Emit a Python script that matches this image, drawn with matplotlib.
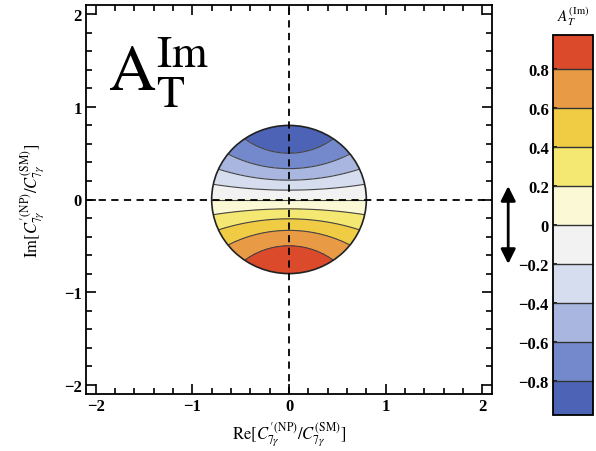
import numpy as np
import matplotlib
matplotlib.use("Agg")
import matplotlib.pyplot as plt
from matplotlib.patches import Circle
from matplotlib.colors import ListedColormap, BoundaryNorm
from matplotlib.ticker import MultipleLocator

plt.rcParams['font.family'] = ['Liberation Serif', 'DejaVu Serif']
plt.rcParams['mathtext.fontset'] = 'stix'
plt.rcParams['contour.negative_linestyle'] = 'solid'

# ---- data ----
levels = [-1.0, -0.8, -0.6, -0.4, -0.2, 0.0, 0.2, 0.4, 0.6, 0.8, 1.0]
band_colors = ['#4d64b6', '#7489cc', '#a8b6e0', '#d5ddef', '#f1f2f1',
               '#fbf8d5', '#f4e872', '#f0cc45', '#e89a45', '#dc4a2c']
cbar_ticks = [-0.8, -0.6, -0.4, -0.2, 0.0, 0.2, 0.4, 0.6, 0.8]
cbar_ticklabels = ['\u22120.8', '\u22120.6', '\u22120.4', '\u22120.2', '0',
                   '0.2', '0.4', '0.6', '0.8']
disk_radius = 0.8
cbar_range = (-0.976, 0.976)
arrow_range = (-0.2, 0.2)

# A_T^Im as function of Re and Im of the ratio
g = np.linspace(-0.85, 0.85, 401)
X, Y = np.meshgrid(g, g)
Z = -2 * Y / (1 + X**2 + Y**2)

fig = plt.figure(figsize=(5.96, 4.52), dpi=100)
ax = fig.add_axes([86/596, 57/452, 406/596, 389/452])

cs = ax.contourf(X, Y, Z, levels=levels, colors=band_colors)
cl = ax.contour(X, Y, Z, levels=levels[1:-1], colors='#444444', linewidths=0.8,
                linestyles='solid')
clip = Circle((0, 0), disk_radius, transform=ax.transData, facecolor='none')
cs.set_clip_path(clip)
cl.set_clip_path(clip)
ax.add_patch(Circle((0, 0), disk_radius, facecolor='none', edgecolor='#222222', lw=1.2, zorder=3))

ax.axhline(0, color='black', lw=1.3, ls=(0, (4, 3)), zorder=4)
ax.axvline(0, color='black', lw=1.3, ls=(0, (4, 3)), zorder=4)

ax.set_xlim(-2.1, 2.1)
ax.set_ylim(-2.1, 2.1)
ax.set_xticks([-2, -1, 0, 1, 2])
ax.set_yticks([-2, -1, 0, 1, 2])
ax.set_xticklabels(['\u22122', '\u22121', '0', '1', '2'])
ax.set_yticklabels(['\u22122', '\u22121', '0', '1', '2'])
ax.xaxis.set_minor_locator(MultipleLocator(0.2))
ax.yaxis.set_minor_locator(MultipleLocator(0.2))
ax.tick_params(which='both', direction='in', top=True, right=True, width=1.2,
               labelsize=12, pad=3)
ax.tick_params(which='major', length=7)
ax.tick_params(which='minor', length=4)
for lab in ax.get_xticklabels() + ax.get_yticklabels():
    lab.set_fontweight('bold')
for s in ax.spines.values():
    s.set_linewidth(1.3)

ax.set_xlabel(r'$\mathrm{Re}[C_{7\gamma}^{\prime\,(\mathrm{NP})}/C_{7\gamma}^{(\mathrm{SM})}]$',
              fontsize=12, labelpad=4)
ax.set_ylabel(r'$\mathrm{Im}[C_{7\gamma}^{\prime\,(\mathrm{NP})}/C_{7\gamma}^{(\mathrm{SM})}]$',
              fontsize=12, labelpad=12)

ax.text(-1.87, 1.19, r'$\mathrm{A}_{\mathrm{T}}^{\mathrm{Im}}$', fontsize=47, va='baseline', ha='left')

# ---- colorbar ----
cax = fig.add_axes([553/596, 36/452, 40/596, 380/452])
bounds = [cbar_range[0]] + levels[1:-1] + [cbar_range[1]]
cmap = ListedColormap(band_colors)
norm = BoundaryNorm(bounds, cmap.N)
sm = matplotlib.cm.ScalarMappable(norm=norm, cmap=cmap)
cb = fig.colorbar(sm, cax=cax, boundaries=bounds, spacing='proportional',
                  drawedges=True, ticks=cbar_ticks)
cb.dividers.set_color('#333333')
cb.dividers.set_linewidth(1.0)
cb.outline.set_linewidth(1.3)
cax.yaxis.set_ticks_position('left')
cax.yaxis.set_label_position('left')
cax.set_yticklabels(cbar_ticklabels)
cax.tick_params(direction='in', length=3, width=1.2, labelsize=12, pad=3)
for lab in cax.get_yticklabels():
    lab.set_fontweight('bold')
cax.minorticks_off()
cax.text(0.5, 1.02, r'$A_T^{(\mathrm{Im})}$', transform=cax.transAxes,
         ha='center', va='bottom', fontsize=11)

cax.annotate('', xy=(-1.12, arrow_range[0]), xytext=(-1.12, arrow_range[1]),
             xycoords=cax.get_yaxis_transform(), textcoords=cax.get_yaxis_transform(),
             arrowprops=dict(arrowstyle='<|-|>', color='black', lw=2,
                             mutation_scale=22, shrinkA=0, shrinkB=0),
             annotation_clip=False)

fig.savefig('out.png', dpi=100)
